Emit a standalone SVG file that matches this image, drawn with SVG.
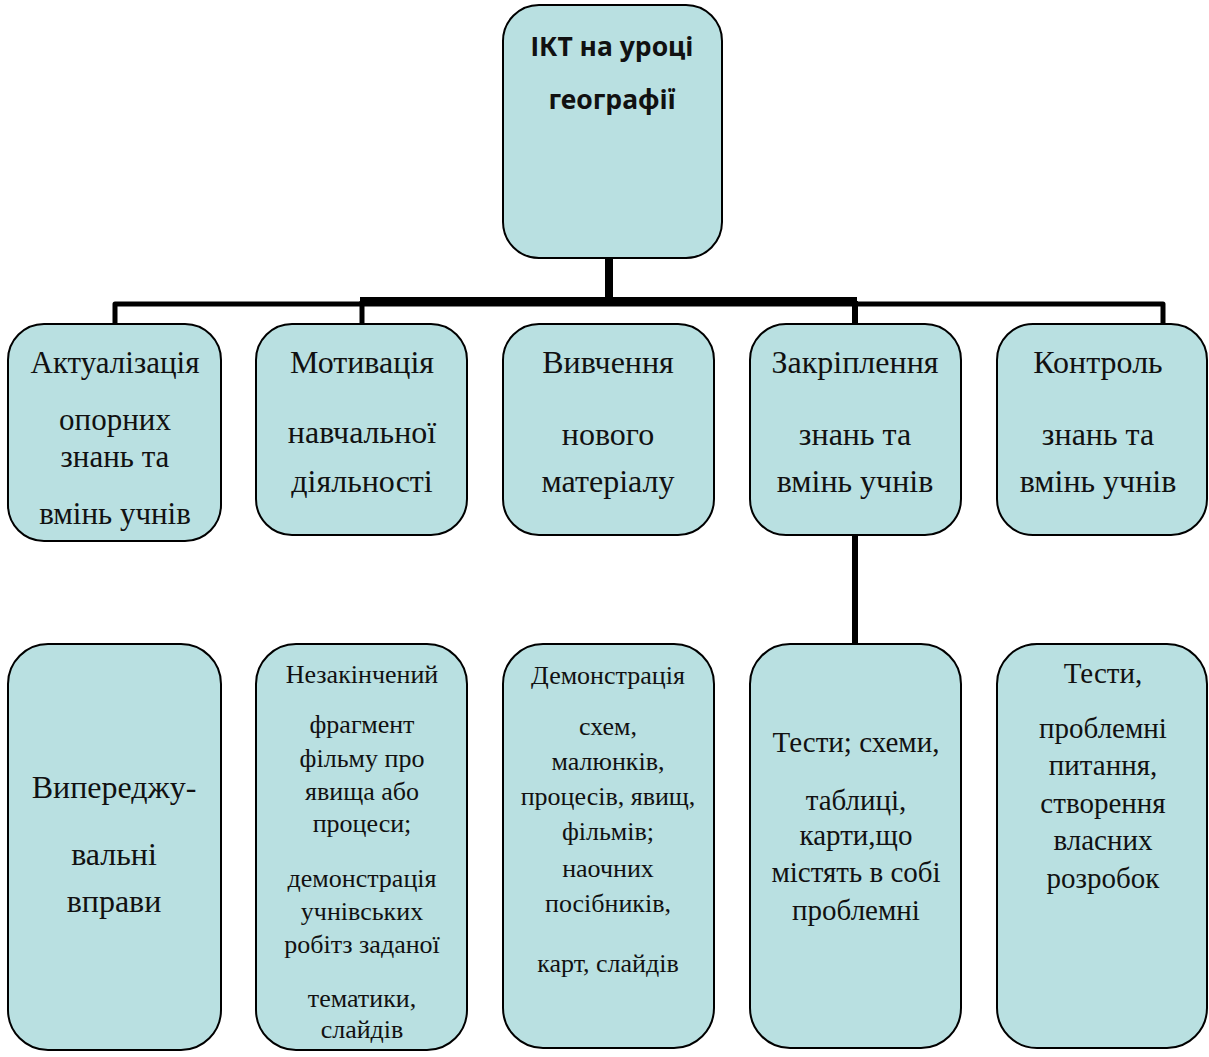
<svg xmlns="http://www.w3.org/2000/svg" width="1209" height="1057" viewBox="0 0 1209 1057">
<style>
.box{fill:#b9e0e1;stroke:#000;stroke-width:2}
.t{font-family:"Liberation Serif","Times New Roman",serif;fill:#111;text-anchor:middle}
.l{font-size:31px}
.k{font-size:32px}
.d{font-size:29px}
.s{font-size:26px}
.m{font-size:32px}
.h{font-family:"Noto Sans","Open Sans",sans-serif;font-weight:bold;font-size:26.5px;fill:#111;text-anchor:middle}
.c{stroke:#000;fill:none;stroke-linejoin:round}
</style>
<rect width="1209" height="1057" fill="#fff"/>
<g id="connectors">
<line class="c" x1="609" y1="258" x2="609" y2="300" stroke-width="8"/>
<polyline class="c" points="115,324 115,304 1163,304 1163,324" stroke-width="5"/>
<line class="c" x1="360" y1="301" x2="857" y2="301" stroke-width="8"/>
<line class="c" x1="362" y1="301" x2="362" y2="324" stroke-width="5"/>
<line class="c" x1="855" y1="301" x2="855" y2="324" stroke-width="6"/>
<line class="c" x1="855" y1="535" x2="855" y2="645" stroke-width="6"/>
</g>
<g id="root">
<rect class="box" x="503" y="5" width="219" height="253" rx="36"/>
<text class="h" x="612" y="56">ІКТ на уроці</text>
<text class="h" x="612" y="109">географії</text>
</g>
<g id="n1">
<rect class="box" x="8" y="324" width="213" height="217" rx="36"/>
<text class="t l" x="115" y="373">Актуалізація</text>
<text class="t l" x="115" y="430">опорних</text>
<text class="t l" x="115" y="467">знань та</text>
<text class="t l" x="115" y="524">вмінь учнів</text>
</g>
<g id="n2">
<rect class="box" x="256" y="324" width="211" height="211" rx="36"/>
<text class="t k" x="362" y="373">Мотивація</text>
<text class="t k" x="362" y="443">навчальної</text>
<text class="t k" x="362" y="492">діяльності</text>
</g>
<g id="n3">
<rect class="box" x="503" y="324" width="211" height="211" rx="36"/>
<text class="t k" x="608" y="373">Вивчення</text>
<text class="t k" x="608" y="445">нового</text>
<text class="t k" x="608" y="492">матеріалу</text>
</g>
<g id="n4">
<rect class="box" x="750" y="324" width="211" height="211" rx="36"/>
<text class="t k" x="855" y="373">Закріплення</text>
<text class="t k" x="855" y="445">знань та</text>
<text class="t k" x="855" y="492">вмінь учнів</text>
</g>
<g id="n5">
<rect class="box" x="997" y="324" width="210" height="211" rx="36"/>
<text class="t k" x="1098" y="373">Контроль</text>
<text class="t k" x="1098" y="445">знань та</text>
<text class="t k" x="1098" y="492">вмінь учнів</text>
</g>
<g id="m1">
<rect class="box" x="8" y="644" width="213" height="406" rx="40"/>
<text class="t m" x="114" y="798">Випереджу-</text>
<text class="t m" x="114" y="865">вальні</text>
<text class="t m" x="114" y="912">вправи</text>
</g>
<g id="m2">
<rect class="box" x="256" y="644" width="211" height="406" rx="40"/>
<text class="t s" x="362" y="683">Незакінчений</text>
<text class="t s" x="362" y="733">фрагмент</text>
<text class="t s" x="362" y="767">фільму про</text>
<text class="t s" x="362" y="800">явища або</text>
<text class="t s" x="362" y="832">процеси;</text>
<text class="t s" x="362" y="887">демонстрація</text>
<text class="t s" x="362" y="920">учнівських</text>
<text class="t s" x="362" y="953">робітз заданої</text>
<text class="t s" x="362" y="1007">тематики,</text>
<text class="t s" x="362" y="1038">слайдів</text>
</g>
<g id="m3">
<rect class="box" x="503" y="644" width="211" height="404" rx="40"/>
<text class="t s" x="608" y="684">Демонстрація</text>
<text class="t s" x="608" y="735">схем,</text>
<text class="t s" x="608" y="770">малюнків,</text>
<text class="t s" x="608" y="805">процесів, явищ,</text>
<text class="t s" x="608" y="840">фільмів;</text>
<text class="t s" x="608" y="877">наочних</text>
<text class="t s" x="608" y="912">посібників,</text>
<text class="t s" x="608" y="972">карт, слайдів</text>
</g>
<g id="m4">
<rect class="box" x="750" y="644" width="211" height="404" rx="40"/>
<text class="t d" x="856" y="752">Тести; схеми,</text>
<text class="t d" x="856" y="810">таблиці,</text>
<text class="t d" x="856" y="845">карти,що</text>
<text class="t d" x="856" y="882">містять в собі</text>
<text class="t d" x="856" y="920">проблемні</text>
</g>
<g id="m5">
<rect class="box" x="997" y="644" width="210" height="404" rx="40"/>
<text class="t d" x="1103" y="683">Тести,</text>
<text class="t d" x="1103" y="738">проблемні</text>
<text class="t d" x="1103" y="775">питання,</text>
<text class="t d" x="1103" y="813">створення</text>
<text class="t d" x="1103" y="850">власних</text>
<text class="t d" x="1103" y="888">розробок</text>
</g>
</svg>
